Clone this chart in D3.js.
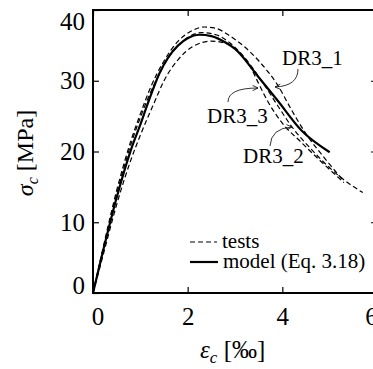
<!DOCTYPE html>
<html>
<head>
<meta charset="utf-8">
<script src="https://cdn.jsdelivr.net/npm/d3@7"></script>
<style>
  body { margin: 0; background: #fff; }
  svg { display: block; }
  text { font-family: "Liberation Serif", "Times New Roman", serif; fill: #000; }
</style>
</head>
<body>
<div id="chart"></div>
<script>
// strain in per mille, stress in MPa
const xTicks = [0, 2, 4, 6];
const yTicks = [0, 10, 20, 30, 40];

const modelStrain = [0, 0.2, 0.5, 0.8, 1.0, 1.17, 1.4, 1.6, 1.8, 2.0, 2.25, 2.5, 2.8, 3.0, 3.5, 3.9, 4.4, 5.0];
const modelStress = [0, 5.6, 13.5, 20.2, 23.8, 27.0, 31.0, 33.4, 35.0, 36.0, 36.5, 36.3, 35.4, 34.5, 30.5, 27.2, 23.0, 19.9];

const dr31Strain = [0, 0.2, 0.5, 0.8, 1.0, 1.2, 1.5, 1.8, 2.1, 2.35, 2.6, 2.9, 3.2, 3.53, 3.9, 4.2, 4.5, 4.9, 5.3];
const dr31Stress = [0, 6.0, 14.5, 21.5, 25.3, 28.8, 32.8, 35.6, 37.1, 37.6, 37.4, 36.3, 34.8, 32.6, 29.4, 25.8, 22.5, 19.0, 15.8];

const dr32Strain = [0, 0.2, 0.5, 0.8, 1.0, 1.3, 1.6, 1.9, 2.3, 2.6, 2.9, 3.2, 3.6, 3.9, 4.2, 4.6, 5.0, 5.4, 5.7];
const dr32Stress = [0, 5.8, 14.0, 21.0, 24.8, 29.6, 33.3, 35.6, 36.8, 36.5, 35.3, 33.3, 29.6, 26.5, 23.5, 20.4, 17.7, 15.5, 14.2];

const dr33Strain = [0, 0.2, 0.5, 0.8, 1.0, 1.3, 1.5, 1.8, 2.1, 2.5, 2.8, 3.1, 3.3, 3.5, 3.7, 4.0, 4.4, 4.8, 5.3];
const dr33Stress = [0, 5.0, 12.5, 18.8, 22.3, 27.0, 30.0, 33.0, 34.8, 35.6, 35.3, 34.0, 32.3, 29.6, 27.0, 24.0, 21.3, 18.7, 15.6];

const legendLabels = ["tests", "model (Eq. 3.18)"];

const width = 373, height = 369;
const m = { left: 93, right: 377, top: 10, bottom: 293 };

const svg = d3.select("#chart").append("svg")
  .attr("width", width)
  .attr("height", height);

const x = d3.scaleLinear().domain([0, 6]).range([m.left, m.right]);
const y = d3.scaleLinear().domain([0, 40]).range([m.bottom, m.top]);

const zip = (a, b) => a.map((v, i) => [v, b[i]]);
const line = d3.line()
  .x(d => x(d[0]))
  .y(d => y(d[1]))
  .curve(d3.curveMonotoneX);

// test curves (dashed)
[[dr31Strain, dr31Stress], [dr32Strain, dr32Stress], [dr33Strain, dr33Stress]].forEach(([s, t]) => {
  svg.append("path")
    .attr("d", line(zip(s, t)))
    .attr("fill", "none")
    .attr("stroke", "#000")
    .attr("stroke-width", 1.2)
    .attr("stroke-dasharray", "5,3");
});

// model curve
svg.append("path")
  .attr("d", line(zip(modelStrain, modelStress)))
  .attr("fill", "none")
  .attr("stroke", "#000")
  .attr("stroke-width", 2.2);

// axes, ticks pointing inward
const styleAxis = g => {
  g.select(".domain").remove();
  g.selectAll(".tick line").attr("stroke", "#000").attr("stroke-width", 1.2);
  g.selectAll(".tick text").attr("font-size", 25).attr("font-family", "Liberation Serif, serif").attr("fill", "#000");
};

const gx = svg.append("g")
  .attr("transform", `translate(0,${m.bottom})`)
  .call(d3.axisBottom(x).tickValues(xTicks).tickSize(-6).tickPadding(14).tickFormat(d3.format("d")))
  .call(styleAxis);
gx.selectAll(".tick text").filter(d => d === 0).attr("x", 4.5);
gx.selectAll(".tick text").filter(d => d === 6).attr("x", -6);

const gy = svg.append("g")
  .attr("transform", `translate(${m.left},0)`)
  .call(d3.axisLeft(y).tickValues(yTicks).tickSize(-6).tickPadding(8).tickFormat(d3.format("d")))
  .call(styleAxis);
gy.selectAll(".tick text").filter(d => d === 40).attr("y", 11);
gy.selectAll(".tick text").filter(d => d === 0).attr("y", -7.5);

svg.append("g")
  .attr("transform", `translate(0,${m.top})`)
  .call(d3.axisTop(x).tickValues(xTicks).tickSize(-6).tickFormat(""))
  .call(styleAxis);

svg.append("g")
  .attr("transform", `translate(${m.right},0)`)
  .call(d3.axisRight(y).tickValues(yTicks).tickSize(-6).tickFormat(""))
  .call(styleAxis);

svg.append("rect")
  .attr("x", m.left).attr("y", m.top)
  .attr("width", m.right - m.left).attr("height", m.bottom - m.top)
  .attr("fill", "none")
  .attr("stroke", "#000")
  .attr("stroke-width", 2);

// axis labels
const xl = svg.append("text")
  .attr("x", 200).attr("y", 358)
  .attr("font-size", 25);
xl.append("tspan").attr("font-style", "italic").text("ε");
xl.append("tspan").attr("font-style", "italic").attr("font-size", 17).attr("dy", 5).text("c");
xl.append("tspan").attr("dy", -5).text(" [‰]");

const yl = svg.append("text")
  .attr("transform", "translate(33,153) rotate(-90)")
  .attr("text-anchor", "middle")
  .attr("font-size", 24);
yl.append("tspan").attr("font-style", "italic").text("σ");
yl.append("tspan").attr("font-style", "italic").attr("font-size", 16).attr("dy", 5).text("c");
yl.append("tspan").attr("dy", -5).text(" [MPa]");

// annotations with curved arrows
const notes = [
  { label: "DR3_1", tx: 282, ty: 65, path: [[298, 69], [298, 86], [275, 87]] },
  { label: "DR3_3", tx: 207, ty: 123, path: [[228, 102], [228, 88], [258, 88]] },
  { label: "DR3_2", tx: 243, ty: 163, path: [[270, 146], [271, 128], [292, 127]] }
];

notes.forEach(n => {
  svg.append("text")
    .attr("x", n.tx).attr("y", n.ty)
    .attr("font-size", 21)
    .text(n.label);
  const [p0, c, p1] = n.path;
  svg.append("path")
    .attr("d", `M${p0[0]},${p0[1]} Q${c[0]},${c[1]} ${p1[0]},${p1[1]}`)
    .attr("fill", "none")
    .attr("stroke", "#000")
    .attr("stroke-width", 0.8);
  const ang = Math.atan2(p1[1] - c[1], p1[0] - c[0]);
  const L = 6, w = 0.45;
  svg.append("path")
    .attr("d", `M${p1[0] - L * Math.cos(ang - w)},${p1[1] - L * Math.sin(ang - w)} L${p1[0]},${p1[1]} L${p1[0] - L * Math.cos(ang + w)},${p1[1] - L * Math.sin(ang + w)}`)
    .attr("fill", "none")
    .attr("stroke", "#000")
    .attr("stroke-width", 0.8);
});

// legend
const legend = svg.append("g");
legend.append("line")
  .attr("x1", 190).attr("x2", 217).attr("y1", 242).attr("y2", 242)
  .attr("stroke", "#000").attr("stroke-width", 1.2).attr("stroke-dasharray", "5,3");
legend.append("line")
  .attr("x1", 190).attr("x2", 218).attr("y1", 262).attr("y2", 262)
  .attr("stroke", "#000").attr("stroke-width", 2.2);
legend.append("text").attr("x", 222).attr("y", 248).attr("font-size", 21).text(legendLabels[0]);
legend.append("text").attr("x", 223).attr("y", 268).attr("font-size", 21).text(legendLabels[1]);
</script>
</body>
</html>
